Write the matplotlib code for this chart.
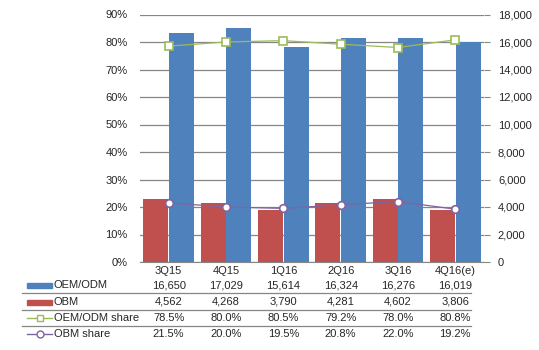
import matplotlib
matplotlib.use('Agg')
import matplotlib.pyplot as plt
import matplotlib.transforms as mtransforms
from matplotlib.lines import Line2D
from matplotlib.patches import Rectangle

plt.rcParams['font.family'] = ['Liberation Sans', 'DejaVu Sans']
plt.rcParams['font.size'] = 8

quarters = ['3Q15', '4Q15', '1Q16', '2Q16', '3Q16', '4Q16(e)']
oem_odm = [16650, 17029, 15614, 16324, 16276, 16019]
obm = [4562, 4268, 3790, 4281, 4602, 3806]
oem_share = [78.5, 80.0, 80.5, 79.2, 78.0, 80.8]
obm_share = [21.5, 20.0, 19.5, 20.8, 22.0, 19.2]

blue = '#4F81BD'
red = '#C0504D'
green = '#9BBB59'
purple = '#8064A2'
txt = '#262626'
W, H = 539, 350

fig = plt.figure(figsize=(W / 100, H / 100), dpi=100)
ax = fig.add_axes([140 / W, 1 - 262 / H, 344 / W, (262 - 14.5) / H])
ax2 = ax.twinx()
x = list(range(len(quarters)))
bw = 0.435

# bars on the host axes, scale on the right
ax.bar([i - bw / 2 - 0.008 for i in x], obm, bw, color=red, zorder=2)
ax.bar([i + bw / 2 + 0.008 for i in x], oem_odm, bw, color=blue, zorder=2)
ax.set_ylim(0, 18000)
ax.set_xlim(-0.5, 5.5)
ax.set_yticks(range(0, 18001, 2000))
ax.set_yticklabels([f'{v:,}' for v in range(0, 18001, 2000)])
ax.yaxis.tick_right()
ax.tick_params(axis='y', length=4, color='#868686', labelcolor=txt, pad=6)
ax.grid(axis='y', color='#868686', linewidth=0.9, zorder=0)
ax.set_axisbelow(True)
for s in ['top', 'left', 'right']:
    ax.spines[s].set_visible(False)
ax.spines['bottom'].set_color('#868686')
ax.set_xticks(x)
ax.set_xticklabels(quarters, color=txt)
ax.tick_params(axis='x', length=0, pad=3)

# share lines, scale on the left
ax2.plot(x, oem_share, color=green, marker='s', markersize=6, markerfacecolor='white',
         markeredgecolor=green, markeredgewidth=1.2, linewidth=0.9, zorder=3)
ax2.plot(x, obm_share, color=purple, marker='o', markersize=5.5, markerfacecolor='white',
         markeredgecolor=purple, markeredgewidth=1.2, linewidth=0.9, zorder=3)
ax2.set_ylim(0, 90)
ax2.set_yticks(range(0, 91, 10))
ax2.set_yticklabels([f'{v}%' for v in range(0, 91, 10)])
ax2.yaxis.tick_left()
ax2.tick_params(axis='y', length=0, labelcolor=txt, pad=9)
for s in ax2.spines.values():
    s.set_visible(False)

# data table below the chart
tr = mtransforms.blended_transform_factory(ax.transData, fig.transFigure)
rows = [
    ('OEM/ODM', [f'{v:,}' for v in oem_odm], 285),
    ('OBM', [f'{v:,}' for v in obm], 302),
    ('OEM/ODM share', [f'{v:.1f}%' for v in oem_share], 318),
    ('OBM share', [f'{v:.1f}%' for v in obm_share], 334),
]
for label, vals, ypx in rows:
    yf = 1 - ypx / H
    fig.text(54 / W, yf, label, ha='left', va='center', color=txt)
    for i, v in enumerate(vals):
        ax.text(i, yf, v, transform=tr, ha='center', va='center', color=txt, clip_on=False)

for ypx in [293, 310, 326]:
    fig.add_artist(Line2D([22 / W, 471 / W], [1 - ypx / H] * 2, color='#868686', linewidth=0.9))

fig.add_artist(Rectangle((27 / W, 1 - 287.5 / H), 25 / W, 5 / H, color=blue))
fig.add_artist(Rectangle((27 / W, 1 - 304.5 / H), 25 / W, 5 / H, color=red))
fig.add_artist(Line2D([27 / W, 52 / W], [1 - 318 / H] * 2, color=green, linewidth=1))
fig.add_artist(Line2D([39.5 / W], [1 - 318 / H], color=green, marker='s', markersize=5,
                      markerfacecolor='white', markeredgecolor=green, linestyle='none'))
fig.add_artist(Line2D([27 / W, 52 / W], [1 - 334 / H] * 2, color=purple, linewidth=1))
fig.add_artist(Line2D([39.5 / W], [1 - 334 / H], color=purple, marker='o', markersize=5,
                      markerfacecolor='white', markeredgecolor=purple, linestyle='none'))

fig.savefig('out.png', dpi=100, facecolor='white')
